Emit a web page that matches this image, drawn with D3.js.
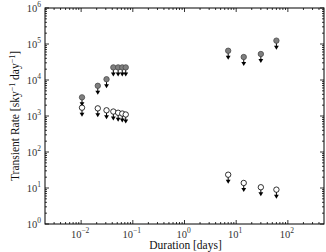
<!DOCTYPE html>
<html>
<head>
<meta charset="utf-8">
<script src="https://cdn.jsdelivr.net/npm/d3@7.9.0/dist/d3.min.js"></script>
<style>
  body { margin: 0; background: #fff; }
  svg { display: block; font-family: "Liberation Serif", "DejaVu Serif", serif; }
</style>
</head>
<body>
<svg id="chart" width="326" height="252"></svg>
<script>
// short-duration searches
const shortDur = [0.0104, 0.021, 0.031, 0.042, 0.052, 0.0625, 0.073];
const shortFilled = [3300, 6900, 10500, 22400, 22400, 22400, 22400];
const shortOpen = [1700, 1630, 1440, 1330, 1230, 1170, 1100];
// long-duration searches
const longDur = [7, 14, 30, 60];
const longFilled = [65000, 43500, 52700, 124000];
const longOpen = [23.4, 13.8, 10.5, 9.0];

const xTicks = [-2, -1, 0, 1, 2];
const yTicks = [0, 1, 2, 3, 4, 5, 6];

const margin = { top: 8, right: 2, bottom: 28, left: 45 };
const width = 326, height = 252;
const svg = d3.select('#chart');

const x = d3.scaleLog().domain([0.002, 500]).range([margin.left, width - margin.right]);
const y = d3.scaleLog().domain([1, 1e6]).range([height - margin.bottom, margin.top]);

const x0 = margin.left, x1 = width - margin.right;
const y0 = height - margin.bottom, y1 = margin.top;

// minor ticks for log axes
function minors(lo, hi) {
  let out = [];
  for (let e = lo; e <= hi; e++) {
    for (let m = 2; m <= 9; m++) out.push(m * Math.pow(10, e));
  }
  return out;
}
const xMinor = minors(-3, 2).filter((v) => v > 0.002 && v < 500);
const yMinor = minors(0, 5);

const tickG = svg.append('g').attr('stroke', '#000').attr('stroke-width', 0.8);

xTicks.forEach((e) => {
  const px = x(Math.pow(10, e));
  tickG.append('line').attr('x1', px).attr('x2', px).attr('y1', y0).attr('y2', y0 - 4);
  tickG.append('line').attr('x1', px).attr('x2', px).attr('y1', y1).attr('y2', y1 + 4);
});
xMinor.forEach((v) => {
  const px = x(v);
  tickG.append('line').attr('x1', px).attr('x2', px).attr('y1', y0).attr('y2', y0 - 2);
  tickG.append('line').attr('x1', px).attr('x2', px).attr('y1', y1).attr('y2', y1 + 2);
});
yTicks.forEach((e) => {
  const py = y(Math.pow(10, e));
  tickG.append('line').attr('x1', x0).attr('x2', x0 + 4).attr('y1', py).attr('y2', py);
  tickG.append('line').attr('x1', x1).attr('x2', x1 - 4).attr('y1', py).attr('y2', py);
});
yMinor.forEach((v) => {
  const py = y(v);
  tickG.append('line').attr('x1', x0).attr('x2', x0 + 2).attr('y1', py).attr('y2', py);
  tickG.append('line').attr('x1', x1).attr('x2', x1 - 2).attr('y1', py).attr('y2', py);
});

svg.append('rect')
  .attr('x', x0).attr('y', y1)
  .attr('width', x1 - x0).attr('height', y0 - y1)
  .attr('fill', 'none').attr('stroke', '#000').attr('stroke-width', 1);

function powLabel(sel, e) {
  sel.append('tspan').text('10');
  sel.append('tspan').attr('dy', -5).attr('font-size', 7.5).text(e < 0 ? '\u2212' + (-e) : e);
}

xTicks.forEach((e) => {
  const t = svg.append('text')
    .attr('x', x(Math.pow(10, e)) - 1).attr('y', y0 + 14)
    .attr('text-anchor', 'middle').attr('font-size', 10.5).attr('fill', '#333');
  powLabel(t, e);
});
yTicks.forEach((e) => {
  const t = svg.append('text')
    .attr('x', x0 - 4).attr('y', y(Math.pow(10, e)) + 4)
    .attr('text-anchor', 'end').attr('font-size', 10.5).attr('fill', '#333');
  powLabel(t, e);
});

svg.append('text')
  .attr('x', (x0 + x1) / 2 + 1).attr('y', 249)
  .attr('text-anchor', 'middle').attr('font-size', 11.5).attr('fill', '#111')
  .text('Duration [days]');

const yl = svg.append('text')
  .attr('transform', `translate(19,${(y0 + y1) / 2}) rotate(-90)`)
  .attr('text-anchor', 'middle').attr('font-size', 11.5).attr('fill', '#111');
yl.append('tspan').text('Transient Rate [sky');
yl.append('tspan').attr('dy', -4).attr('font-size', 8).text('\u22121');
yl.append('tspan').attr('dy', 4).text(' day');
yl.append('tspan').attr('dy', -4).attr('font-size', 8).text('\u22121');
yl.append('tspan').attr('dy', 4).text(']');

// upper-limit markers
function drawLimits(durs, vals, fill, stroke) {
  const g = svg.append('g');
  durs.forEach((d, i) => {
    const px = x(d), py = y(vals[i]);
    g.append('line').attr('x1', px).attr('x2', px).attr('y1', py).attr('y2', py + 6)
      .attr('stroke', '#000').attr('stroke-width', 1);
    g.append('path')
      .attr('d', `M${px - 2.4},${py + 5} L${px + 2.4},${py + 5} L${px},${py + 9} Z`)
      .attr('fill', '#000');
    g.append('circle').attr('cx', px).attr('cy', py).attr('r', 2.7)
      .attr('fill', fill).attr('stroke', stroke).attr('stroke-width', 0.8);
  });
}
drawLimits(shortDur, shortFilled, '#7f7f7f', '#4a4a4a');
drawLimits(longDur, longFilled, '#7f7f7f', '#4a4a4a');
drawLimits(shortDur, shortOpen, '#fff', '#000');
drawLimits(longDur, longOpen, '#fff', '#000');
</script>
</body>
</html>
